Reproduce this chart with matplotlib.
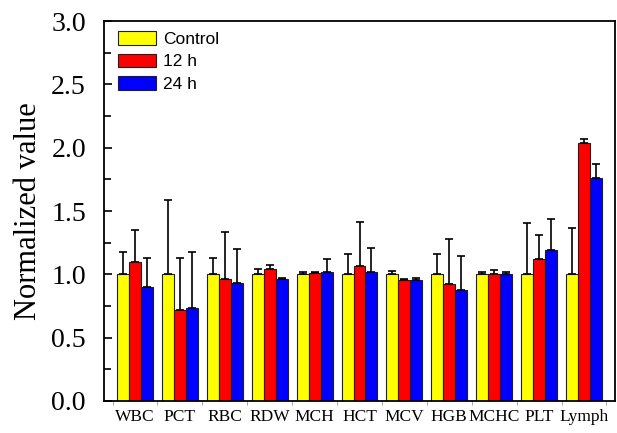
import matplotlib
matplotlib.use("Agg")
import matplotlib.pyplot as plt
import numpy as np
from matplotlib.ticker import MultipleLocator, FixedLocator

categories = ["WBC", "PCT", "RBC", "RDW", "MCH", "HCT", "MCV", "HGB", "MCHC", "PLT", "Lymph"]
series_names = ["Control", "12 h", "24 h"]
control = [1.0, 1.0, 1.0, 1.0, 1.0, 1.0, 1.0, 1.0, 1.0, 1.0, 1.0]
h12 = [1.097, 0.718, 0.961, 1.042, 1.008, 1.068, 0.958, 0.926, 1.005, 1.118, 2.034]
h24 = [0.897, 0.734, 0.929, 0.963, 1.021, 1.016, 0.955, 0.874, 1.000, 1.192, 1.763]
control_err = [0.174, 0.584, 0.131, 0.040, 0.021, 0.163, 0.029, 0.158, 0.021, 0.403, 0.363]
h12_err = [0.253, 0.408, 0.376, 0.034, 0.013, 0.348, 0.008, 0.350, 0.027, 0.195, 0.032]
h24_err = [0.234, 0.445, 0.274, 0.011, 0.103, 0.195, 0.013, 0.271, 0.021, 0.242, 0.110]
colors = ["#ffff00", "#ff0000", "#0000ff"]

plt.rcParams["font.family"] = ["Liberation Serif", "DejaVu Serif"]

fig = plt.figure(figsize=(6.17, 4.33), dpi=100)
ax = fig.add_axes([104/617, 1 - 401/433, (615-104)/617, (401-21)/433])

x = np.arange(len(categories))
w = 0.267
vals = [control, h12, h24]
errs = [control_err, h12_err, h24_err]
for i, (v, e, c, n) in enumerate(zip(vals, errs, colors, series_names)):
    ax.bar(x + (i - 1) * w, v, width=w, color=c, edgecolor="#202020", linewidth=0.8,
           yerr=[np.zeros(len(v)), e], capsize=3,
           error_kw=dict(ecolor="black", elinewidth=1.2, capthick=1.2),
           label=n, zorder=2)

ax.set_xlim(-0.69, 10.69)
ax.set_ylim(0, 3.0)
ax.yaxis.set_major_locator(MultipleLocator(0.5))
ax.yaxis.set_minor_locator(MultipleLocator(0.25))
ax.yaxis.set_major_formatter(matplotlib.ticker.FormatStrFormatter("%.1f"))
ax.set_xticks(x)
ax.set_xticklabels(categories, fontsize=12.5)
ax.xaxis.set_minor_locator(FixedLocator(np.arange(-0.5, 11, 1.0)))
ax.tick_params(axis="x", which="major", length=0, pad=6)
ax.tick_params(axis="x", which="minor", length=3, direction="out", width=0.6, color="#999999")
ax.tick_params(axis="y", which="both", direction="in", width=1.2, right=False, labelsize=20)
ax.tick_params(axis="y", which="major", length=6, pad=13)
ax.tick_params(axis="y", which="minor", length=5)
ax.set_ylabel("Normalized value", fontsize=22, labelpad=6)
for s in ax.spines.values():
    s.set_linewidth(1.3)

leg = ax.legend(loc="upper left", frameon=False, prop={"family": "Liberation Sans", "size": 12.5},
                handlelength=2.2, handleheight=0.85, labelspacing=0.38, handletextpad=0.4,
                borderaxespad=0.0, bbox_to_anchor=(0.014, 0.992))

fig.savefig("out.png", dpi=100)
